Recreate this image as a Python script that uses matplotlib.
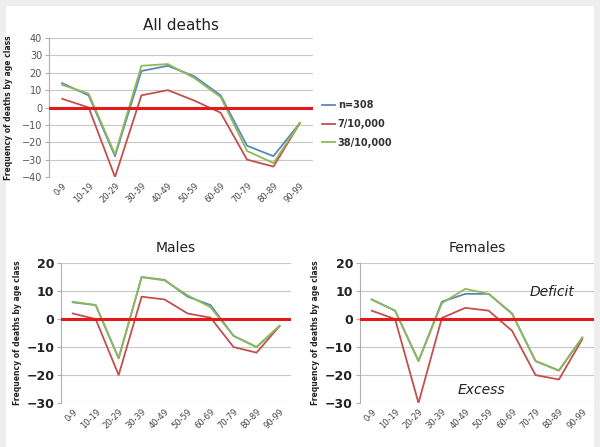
import matplotlib.pyplot as plt
import numpy as np
from matplotlib.patches import Rectangle

ages = ['0-9', '10-19', '20-29', '30-39', '40-49', '50-59', '60-69', '70-79', '80-89', '90-99']
series_names = ['n=308', '7/10,000', '38/10,000']

all_n308 = [14, 7, -28, 21, 24, 18, 7, -22, -28, -9]
all_7 = [5, 0, -40, 7, 10, 4, -3, -30, -34, -9]
all_38 = [13, 8, -27, 24, 25, 17, 6, -25, -32, -9]

male_n308 = [6, 5, -14, 15, 14, 8, 5, -6, -10, -2.5]
male_7 = [2, 0, -20, 8, 7, 2, 0.5, -10, -12, -2.5]
male_38 = [6.2, 5, -14, 15, 13.8, 8.5, 4.2, -6, -10, -2.4]

female_n308 = [7, 3, -15, 6.2, 9, 9, 2, -15, -18.4, -6.6]
female_7 = [3, 0, -30, 0.4, 4, 3, -4.2, -20, -21.6, -7.2]
female_38 = [7, 3, -15, 5.7, 10.8, 9, 1.8, -15, -18.4, -6.6]

colors = ['#5b87bd', '#c2504d', '#8fba55']
ylab = 'Frequency of deaths by age class'

fig = plt.figure(figsize=(6, 4.47), dpi=100, facecolor='#eeeeee')
fig.patches.append(Rectangle((6/600, 0), 588/600, 1 - 6/447, transform=fig.transFigure,
                             facecolor='white', edgecolor='none', zorder=-1))

ax1 = fig.add_axes([0.0817, 0.604, 0.44, 0.311])
ax2 = fig.add_axes([0.102, 0.0984, 0.383, 0.313])
ax3 = fig.add_axes([0.600, 0.0984, 0.390, 0.313])

x = np.arange(len(ages))

def setup(ax, data, ylim, step, title, big, labx):
    for vals, c, name in zip(data, colors, series_names):
        ax.plot(x, vals, color=c, lw=1.3, label=name, zorder=3)
    ax.axhline(0, color='#e41a1a', lw=2.2, zorder=4)
    ax.set_xlim(-0.5, len(ages) - 0.5)
    ax.set_ylim(*ylim)
    ax.set_yticks(np.arange(ylim[0], ylim[1] + 1, step))
    ax.grid(axis='y', color='#c8c8c8', lw=0.8)
    ax.set_axisbelow(True)
    for s in ['top', 'right', 'bottom']:
        ax.spines[s].set_visible(False)
    ax.spines['left'].set_color('#b0b0b0')
    ax.set_xticks(x)
    ax.set_xticklabels(ages, rotation=45, ha='right', rotation_mode='anchor',
                       fontsize=6, color='#444444')
    ax.tick_params(axis='x', length=0, pad=3)
    if big:
        ax.tick_params(axis='y', labelsize=9, length=3, color='#b0b0b0', pad=2)
        for t in ax.get_yticklabels():
            t.set_fontweight('bold')
            t.set_color('#222222')
        ax.set_title(title, fontsize=10, pad=8, color='#222222')
    else:
        ax.tick_params(axis='y', labelsize=7, length=3, color='#b0b0b0',
                       labelcolor='#555555', pad=2)
        ax.set_title(title, fontsize=11, pad=6, color='#222222')
    ax.set_ylabel(ylab, fontsize=5.5, fontweight='bold', color='#222222')
    ax.yaxis.set_label_coords(labx, 0.5)

setup(ax1, [all_n308, all_7, all_38], (-40, 40), 10, 'All deaths', False, -0.135)
setup(ax2, [male_n308, male_7, male_38], (-30, 20), 10, 'Males', True, -0.17)
setup(ax3, [female_n308, female_7, female_38], (-30, 20), 10, 'Females', True, -0.17)

ax1.legend(loc='upper left', bbox_to_anchor=(1.02, 0.58), frameon=False,
           prop={'size': 7, 'weight': 'bold'}, handlelength=1.3, handletextpad=0.3,
           labelspacing=0.9, borderaxespad=0)
for t in ax1.get_legend().get_texts():
    t.set_color('#333333')

ax3.text(0.82, 0.79, 'Deficit', transform=ax3.transAxes, fontsize=10,
         style='italic', ha='center', va='center', color='#222222')
ax3.text(0.52, 0.09, 'Excess', transform=ax3.transAxes, fontsize=10,
         style='italic', ha='center', va='center', color='#222222')

plt.savefig('out.png', dpi=100, facecolor=fig.get_facecolor())
